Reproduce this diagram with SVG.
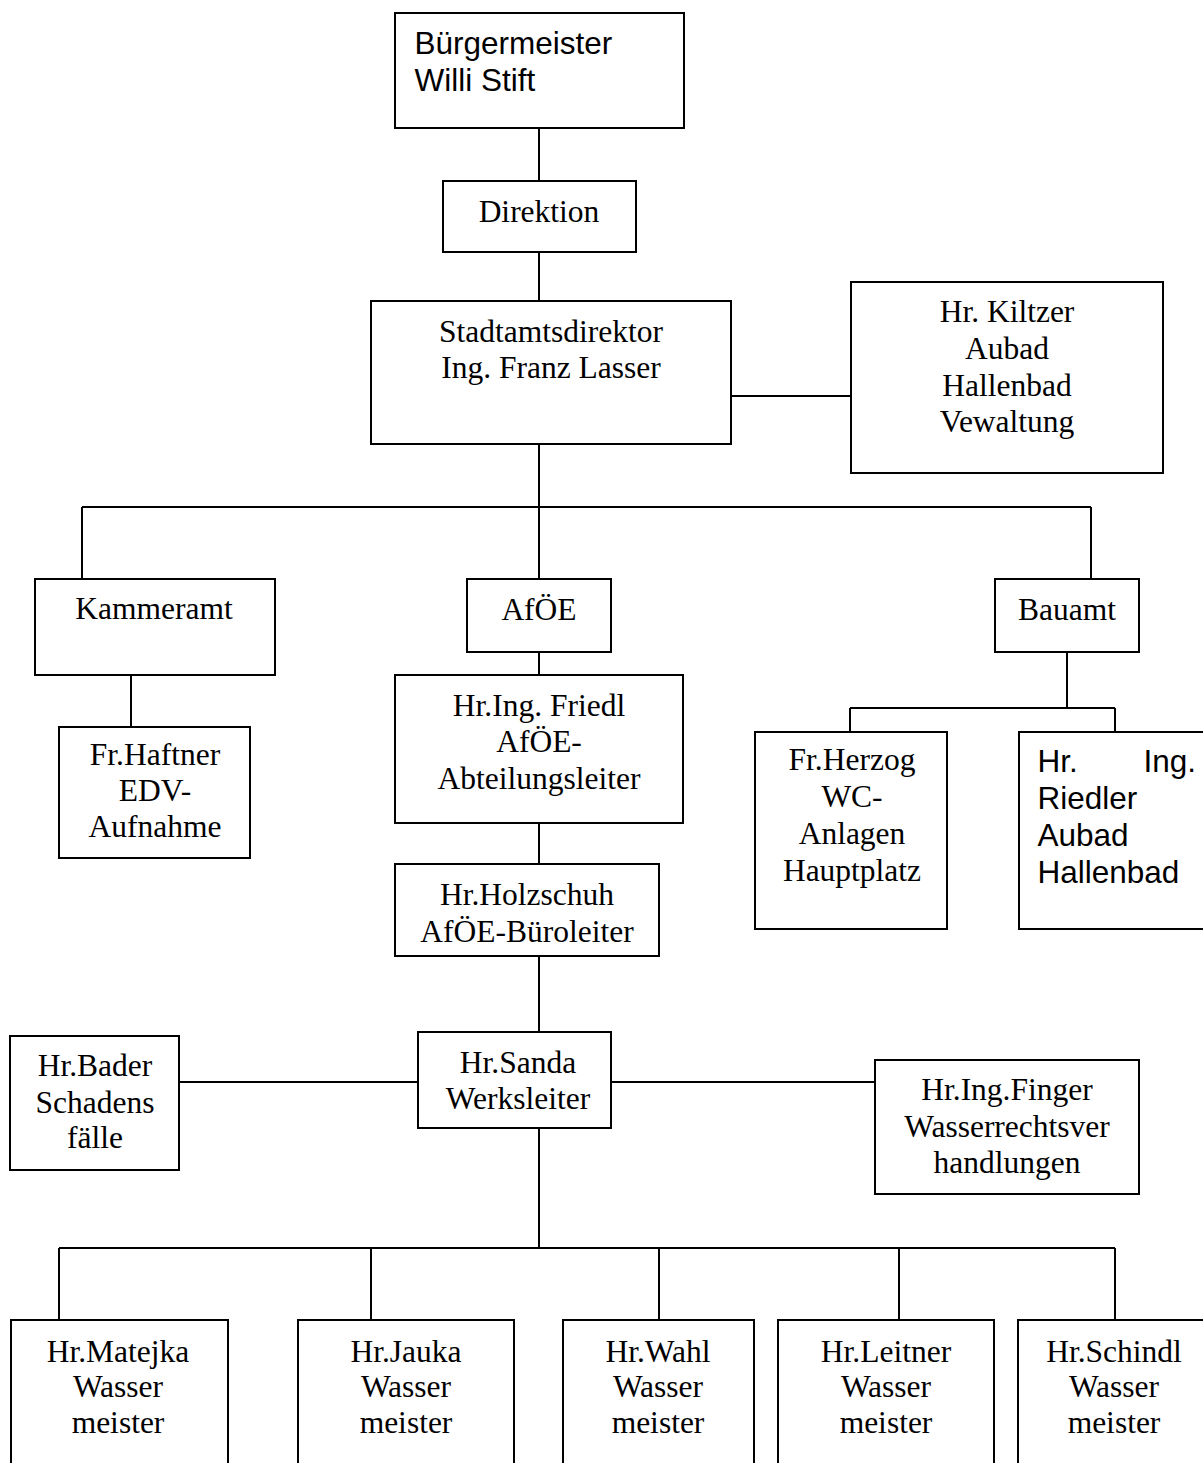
<svg xmlns="http://www.w3.org/2000/svg" width="1203" height="1463" viewBox="0 0 1203 1463">
<style>
rect{fill:#fff;stroke:#000;stroke-width:2}
line{stroke:#000;stroke-width:2}
.t{font-family:"Liberation Serif","Times New Roman",serif;font-size:31.5px;fill:#000;text-anchor:middle}
.s{font-family:"Liberation Sans",Arial,sans-serif;font-size:31.5px;fill:#000}
</style>
<rect x="0" y="0" width="1203" height="1463" style="stroke:none"/>
<g id="connectors">
<line x1="539" y1="128" x2="539" y2="181"/>
<line x1="539" y1="252" x2="539" y2="301"/>
<line x1="539" y1="444" x2="539" y2="507"/>
<line x1="731" y1="396" x2="851" y2="396"/>
<line x1="82" y1="507" x2="1091" y2="507"/>
<line x1="82" y1="507" x2="82" y2="579"/>
<line x1="539" y1="507" x2="539" y2="579"/>
<line x1="1091" y1="507" x2="1091" y2="579"/>
<line x1="131" y1="675" x2="131" y2="727"/>
<line x1="539" y1="652" x2="539" y2="675"/>
<line x1="539" y1="823" x2="539" y2="864"/>
<line x1="1067" y1="652" x2="1067" y2="708"/>
<line x1="850" y1="708" x2="1115" y2="708"/>
<line x1="850" y1="708" x2="850" y2="732"/>
<line x1="1115" y1="708" x2="1115" y2="732"/>
<line x1="539" y1="956" x2="539" y2="1032"/>
<line x1="179" y1="1082" x2="418" y2="1082"/>
<line x1="611" y1="1082" x2="875" y2="1082"/>
<line x1="539" y1="1128" x2="539" y2="1248"/>
<line x1="59" y1="1248" x2="1115" y2="1248"/>
<line x1="59" y1="1248" x2="59" y2="1320"/>
<line x1="371" y1="1248" x2="371" y2="1320"/>
<line x1="659" y1="1248" x2="659" y2="1320"/>
<line x1="899" y1="1248" x2="899" y2="1320"/>
<line x1="1115" y1="1248" x2="1115" y2="1320"/>
</g>
<g id="buergermeister"><rect x="395" y="13" width="289" height="115"/><text class="s" x="414.5" y="54">Bürgermeister</text><text class="s" x="414.5" y="91">Willi Stift</text></g>
<g id="direktion"><rect x="443" y="181" width="193" height="71"/><text class="t" x="539" y="222">Direktion</text></g>
<g id="stadtamtsdirektor"><rect x="371" y="301" width="360" height="143"/><text class="t" x="551" y="342">Stadtamtsdirektor</text><text class="t" x="551" y="378">Ing. Franz Lasser</text></g>
<g id="kiltzer"><rect x="851" y="282" width="312" height="191"/><text class="t" x="1007" y="322">Hr. Kiltzer</text><text class="t" x="1007" y="359">Aubad</text><text class="t" x="1007" y="396">Hallenbad</text><text class="t" x="1007" y="432">Vewaltung</text></g>
<g id="kammeramt"><rect x="35" y="579" width="240" height="96"/><text class="t" x="154" y="619">Kammeramt</text></g>
<g id="afoe"><rect x="467" y="579" width="144" height="73"/><text class="t" x="539" y="620">AfÖE</text></g>
<g id="bauamt"><rect x="995" y="579" width="144" height="73"/><text class="t" x="1067" y="620">Bauamt</text></g>
<g id="haftner"><rect x="59" y="727" width="191" height="131"/><text class="t" x="155" y="765">Fr.Haftner</text><text class="t" x="155" y="801">EDV-</text><text class="t" x="155" y="837">Aufnahme</text></g>
<g id="friedl"><rect x="395" y="675" width="288" height="148"/><text class="t" x="539" y="716">Hr.Ing. Friedl</text><text class="t" x="539" y="752">AfÖE-</text><text class="t" x="539" y="789">Abteilungsleiter</text></g>
<g id="herzog"><rect x="755" y="732" width="192" height="197"/><text class="t" x="852" y="770">Fr.Herzog</text><text class="t" x="852" y="807">WC-</text><text class="t" x="852" y="844">Anlagen</text><text class="t" x="852" y="881">Hauptplatz</text></g>
<g id="riedler"><rect x="1019" y="732" width="200" height="197"/><text class="s" x="1037.5" y="772">Hr.</text><text class="s" x="1196" y="772" style="text-anchor:end">Ing.</text><text class="s" x="1037.5" y="809">Riedler</text><text class="s" x="1037.5" y="846">Aubad</text><text class="s" x="1037.5" y="883">Hallenbad</text></g>
<g id="holzschuh"><rect x="395" y="864" width="264" height="92"/><text class="t" x="527" y="905">Hr.Holzschuh</text><text class="t" x="527" y="942">AfÖE-Büroleiter</text></g>
<g id="bader"><rect x="10" y="1036" width="169" height="134"/><text class="t" x="95" y="1076">Hr.Bader</text><text class="t" x="95" y="1113">Schadens</text><text class="t" x="95" y="1148">fälle</text></g>
<g id="sanda"><rect x="418" y="1032" width="193" height="96"/><text class="t" x="518" y="1073">Hr.Sanda</text><text class="t" x="518" y="1109">Werksleiter</text></g>
<g id="finger"><rect x="875" y="1060" width="264" height="134"/><text class="t" x="1007" y="1100">Hr.Ing.Finger</text><text class="t" x="1007" y="1137">Wasserrechtsver</text><text class="t" x="1007" y="1173">handlungen</text></g>
<g id="matejka"><rect x="11" y="1320" width="217" height="160"/><text class="t" x="118" y="1362">Hr.Matejka</text><text class="t" x="118" y="1397">Wasser</text><text class="t" x="118" y="1433">meister</text></g>
<g id="jauka"><rect x="298" y="1320" width="216" height="160"/><text class="t" x="406" y="1362">Hr.Jauka</text><text class="t" x="406" y="1397">Wasser</text><text class="t" x="406" y="1433">meister</text></g>
<g id="wahl"><rect x="563" y="1320" width="191" height="160"/><text class="t" x="658" y="1362">Hr.Wahl</text><text class="t" x="658" y="1397">Wasser</text><text class="t" x="658" y="1433">meister</text></g>
<g id="leitner"><rect x="778" y="1320" width="216" height="160"/><text class="t" x="886" y="1362">Hr.Leitner</text><text class="t" x="886" y="1397">Wasser</text><text class="t" x="886" y="1433">meister</text></g>
<g id="schindl"><rect x="1018" y="1320" width="200" height="160"/><text class="t" x="1114" y="1362">Hr.Schindl</text><text class="t" x="1114" y="1397">Wasser</text><text class="t" x="1114" y="1433">meister</text></g>
</svg>
